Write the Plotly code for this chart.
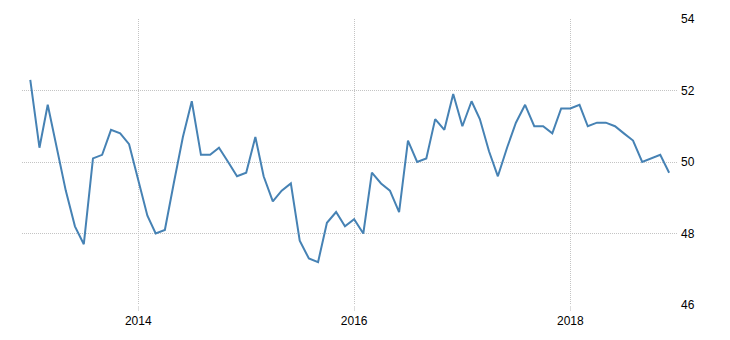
import plotly.graph_objects as go
import pandas as pd

start_month = "2013-01-01"
pmi_values = [
    52.3, 50.4, 51.6, 50.4, 49.2, 48.2, 47.7, 50.1, 50.2, 50.9, 50.8, 50.5,
    49.5, 48.5, 48.0, 48.1, 49.4, 50.7, 51.7, 50.2, 50.2, 50.4, 50.0, 49.6,
    49.7, 50.7, 49.6, 48.9, 49.2, 49.4, 47.8, 47.3, 47.2, 48.3, 48.6, 48.2,
    48.4, 48.0, 49.7, 49.4, 49.2, 48.6, 50.6, 50.0, 50.1, 51.2, 50.9, 51.9,
    51.0, 51.7, 51.2, 50.3, 49.6, 50.4, 51.1, 51.6, 51.0, 51.0, 50.8, 51.5,
    51.5, 51.6, 51.0, 51.1, 51.1, 51.0, 50.8, 50.6, 50.0, 50.1, 50.2, 49.7,
]
dates = pd.date_range(start_month, periods=len(pmi_values), freq="MS")

x_tick_vals = ["2014-01-01", "2016-01-01", "2018-01-01"]
x_tick_text = ["2014", "2016", "2018"]
y_tick_vals = [46, 48, 50, 52, 54]

fig = go.Figure()
fig.add_trace(go.Scatter(
    x=dates, y=pmi_values, mode="lines",
    line=dict(color="#4682b4", width=2),
    hoverinfo="x+y",
))

fig.update_layout(
    width=730, height=340,
    margin=dict(l=22, r=52, t=19, b=35),
    paper_bgcolor="white", plot_bgcolor="white",
    showlegend=False,
    font=dict(family="Liberation Sans, Arial, sans-serif", size=12, color="#000000"),
)
fig.update_xaxes(
    type="date",
    range=["2012-12-04", "2018-12-31"],
    tickvals=x_tick_vals, ticktext=x_tick_text,
    showgrid=True, gridcolor="#c4c4c4", griddash="1px,1px", gridwidth=1,
    ticks="outside", ticklen=5, tickcolor="#dddddd", tickwidth=1,
    showline=False, zeroline=False,
)
fig.update_yaxes(
    range=[46, 54], side="right",
    tickvals=y_tick_vals,
    showgrid=True, gridcolor="#c4c4c4", griddash="1px,1px", gridwidth=1,
    ticks="", ticklabelstandoff=2,
    showline=False, zeroline=False,
)

fig.write_html("out.html")
